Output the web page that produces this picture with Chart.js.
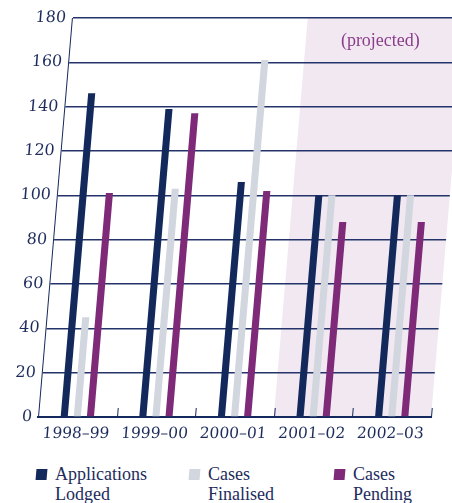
<!DOCTYPE html>
<html>
<head>
<meta charset="utf-8">
<script src="https://cdn.jsdelivr.net/npm/chart.js@4/dist/chart.umd.min.js"></script>
<style>
  body { margin: 0; background: #fff; }
  #wrap { position: absolute; left: 0; top: 0; width: 452px; height: 455px; }
  .item { position: absolute; top: 464px; font: 18px 'Liberation Serif', serif; color: #1d2c5c; line-height: 20px; }
  .item i { position: absolute; left: -19px; top: 5px; width: 11px; height: 11px; transform: skewX(-5deg); }
</style>
</head>
<body>
<div id="wrap"><canvas id="chart"></canvas></div>
<div class="item" style="left:55px"><i style="background:#14295b"></i>Applications<br>Lodged</div>
<div class="item" style="left:208px"><i style="background:#d2d6df"></i>Cases<br>Finalised</div>
<div class="item" style="left:353px"><i style="background:#7e2a78"></i>Cases<br>Pending</div>
<script>
    'use strict';

    var categories = ['1998–99', '1999–00', '2000–01', '2001–02', '2002–03'];
    var lodged = [146, 139, 106, 100, 100];
    var finalised = [45, 103, 161, 100, 100];
    var pending = [101, 137, 102, 88, 88];
    var yMin = 0, yMax = 180, yStep = 20;
    var firstProjected = 3;

    var NAVY = '#14295b';
    var SHEAR = 0.085;

    // the whole plot leans right, bottom edge stays put
    var shearPlugin = {
        id: 'shear',
        beforeDraw: function (chart) {
            var ctx = chart.ctx, area = chart.chartArea, xs = chart.scales.x;
            ctx.save();
            ctx.transform(1, 0, -SHEAR, 1, SHEAR * area.bottom, 0);
            var left = xs.getPixelForValue(firstProjected - 0.5);
            ctx.fillStyle = '#f1e8f1';
            ctx.fillRect(left, area.top, area.right - left, area.bottom - area.top);
        },
        afterDraw: function (chart) {
            var ctx = chart.ctx, area = chart.chartArea, xs = chart.scales.x;
            ctx.strokeStyle = NAVY;
            ctx.lineWidth = 1;
            for (var i = 1; i <= categories.length; i++) {
                var x = Math.round(xs.getPixelForValue(i - 0.5)) + 0.5;
                ctx.beginPath();
                ctx.moveTo(x, area.bottom);
                ctx.lineTo(x, area.bottom - 9);
                ctx.stroke();
            }
            ctx.restore();

            var left = xs.getPixelForValue(firstProjected - 0.5);
            var ty = area.top + 23;
            var tx = (left + area.right) / 2 + SHEAR * (area.bottom - ty) - 4;
            ctx.save();
            ctx.fillStyle = '#8b3d8b';
            ctx.font = '18px "Liberation Serif", serif';
            ctx.textAlign = 'center';
            ctx.textBaseline = 'middle';
            ctx.fillText('(projected)', tx, ty);
            ctx.restore();
        }
    };

    function dataset(label, data, color) {
        return {
            label: label,
            data: data,
            backgroundColor: color,
            borderWidth: 0,
            categoryPercentage: 0.5,
            barPercentage: 0.54
        };
    }

    new Chart(document.getElementById('chart').getContext('2d'), {
        type: 'bar',
        data: {
            labels: categories,
            datasets: [
                dataset('Applications Lodged', lodged, NAVY),
                dataset('Cases Finalised', finalised, '#d2d6df'),
                dataset('Cases Pending', pending, '#7e2a78')
            ]
        },
        options: {
            responsive: true,
            maintainAspectRatio: false,
            animation: false,
            layout: { padding: { top: 18, right: 21, left: 0, bottom: 0 } },
            plugins: { legend: { display: false }, tooltip: { enabled: false } },
            scales: {
                x: {
                    grid: { display: false, drawTicks: false },
                    border: { display: true, color: NAVY, width: 2 },
                    ticks: {
                        color: '#1d2c5c',
                        font: { family: 'DejaVu Serif', size: 15.5 },
                        padding: 8,
                        maxRotation: 0,
                        autoSkip: false
                    },
                    afterFit: function (scale) { scale.height = 38; }
                },
                y: {
                    min: yMin,
                    max: yMax,
                    grid: { color: '#24346a', lineWidth: 1.4, drawTicks: false },
                    border: { display: true, color: NAVY, width: 1 },
                    ticks: {
                        stepSize: yStep,
                        color: '#1d2c5c',
                        font: { family: 'DejaVu Serif', size: 16 },
                        padding: 6
                    },
                    afterFit: function (scale) { scale.width = 38; }
                }
            }
        },
        plugins: [shearPlugin]
    });
</script>
</body>
</html>
